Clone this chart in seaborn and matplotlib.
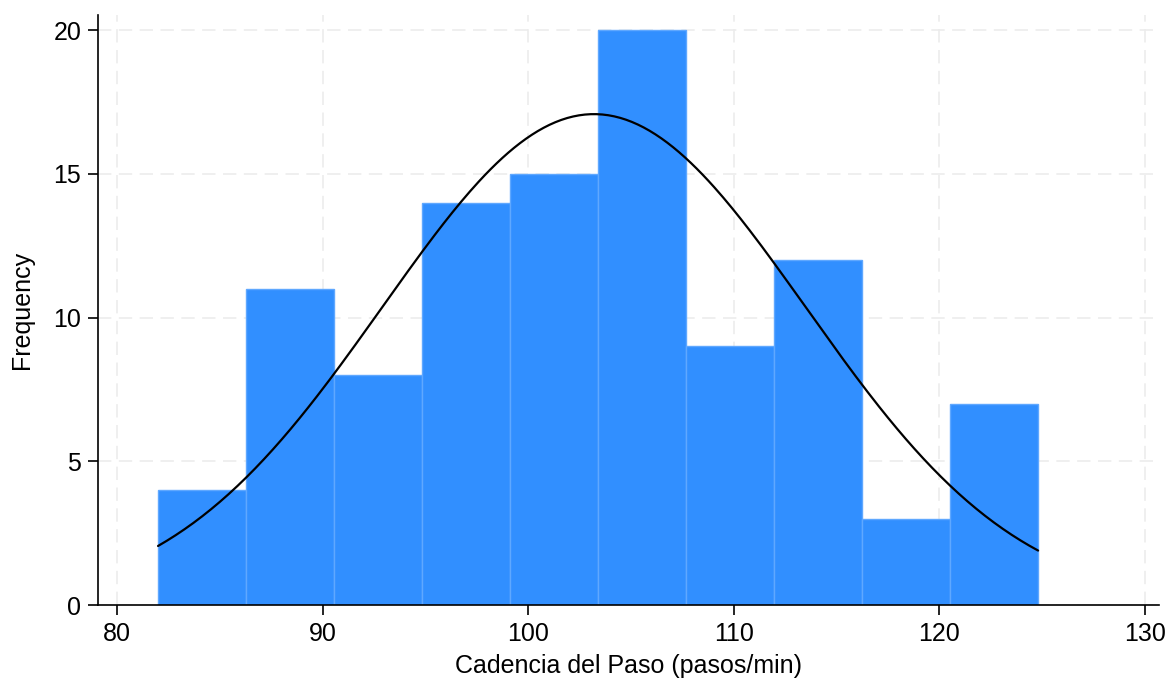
import numpy as np
import pandas as pd
import seaborn as sns
import matplotlib.pyplot as plt

# histogram bins
bin_edges = [82.0, 86.28, 90.56, 94.84, 99.12, 103.4, 107.68, 111.96, 116.24, 120.52, 124.8]
counts = [4, 11, 8, 14, 15, 20, 9, 12, 3, 7]

# normal overlay parameters (estimated)
mu = 103.2
sd = 10.3

sns.set_style("white")
plt.rcParams['font.family'] = ['Liberation Sans', 'DejaVu Sans']
plt.rcParams['text.color'] = 'black'
plt.rcParams['axes.labelcolor'] = 'black'

edges = np.array(bin_edges)
centers = (edges[:-1] + edges[1:]) / 2
df = pd.DataFrame({"cadencia": centers, "n": counts})

fig = plt.figure(figsize=(11.68, 6.82), dpi=100)
ax = fig.add_axes([0.0839, 0.1129, 0.9084, 0.865])

sns.histplot(data=df, x="cadencia", weights="n", bins=list(bin_edges), ax=ax,
             color="#318fff", alpha=1, edgecolor="#5fa8ff", linewidth=1, zorder=2)

width = edges[1] - edges[0]
xs = np.linspace(edges[0], edges[-1], 300)
ys = sum(counts) * width / (sd * np.sqrt(2 * np.pi)) * np.exp(-0.5 * ((xs - mu) / sd) ** 2)
sns.lineplot(x=xs, y=ys, color="black", linewidth=1.6, ax=ax, zorder=3)

ax.set_xlim(79.08, 130.68)
ax.set_ylim(0, 20.52)
ax.set_xticks([80, 90, 100, 110, 120, 130])
ax.set_yticks([0, 5, 10, 15, 20])
ax.grid(True, color="#ececec", linestyle=(0, (8, 4.5)), linewidth=1.2, zorder=0)
ax.set_axisbelow(True)

for s in ["top", "right"]:
    ax.spines[s].set_visible(False)
for s in ["left", "bottom"]:
    ax.spines[s].set_color("black")
    ax.spines[s].set_linewidth(1.2)

ax.tick_params(axis="both", direction="out", length=7, width=1.2, labelsize=18,
               colors="black", left=True, bottom=True, pad=5)
ax.set_xlabel("Cadencia del Paso (pasos/min)", fontsize=18, labelpad=6)
ax.set_ylabel("Frequency", fontsize=18, labelpad=14)

fig.savefig("out.png", dpi=100)
